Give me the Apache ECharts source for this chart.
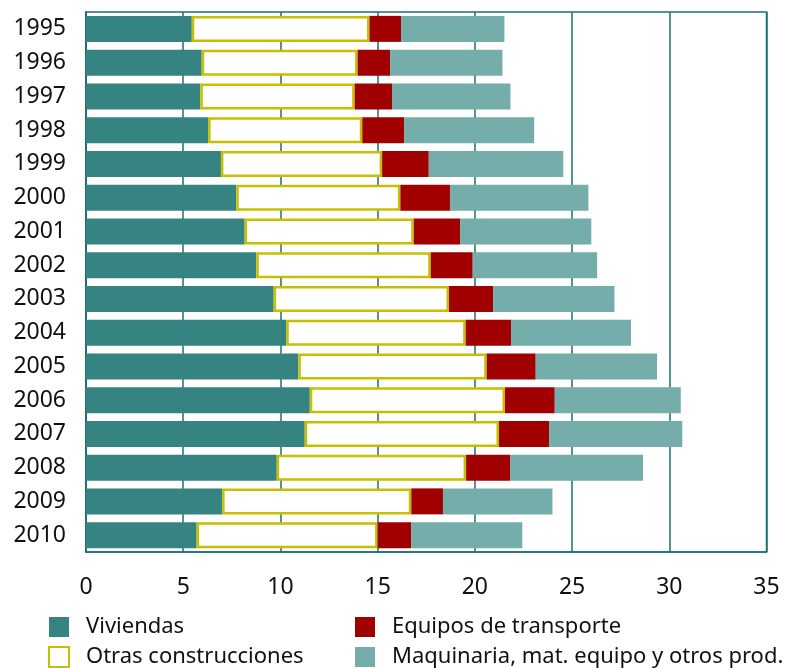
<!DOCTYPE html>
<html>
<head>
<meta charset="utf-8">
<script src="https://cdn.jsdelivr.net/npm/echarts@6/dist/echarts.min.js"></script>
<style>html,body{margin:0;padding:0;background:#fff}#c{width:794px;height:668px}</style>
</head>
<body>
<div id="c"></div>
<script>
const years = ['1995','1996','1997','1998','1999','2000','2001','2002','2003','2004','2005','2006','2007','2008','2009','2010'];
const viviendas = [5.44,5.95,5.88,6.28,6.94,7.73,8.16,8.76,9.65,10.30,10.92,11.51,11.25,9.81,7.00,5.69];
const otras = [9.14,8.02,7.94,7.93,8.29,8.44,8.70,8.97,9.02,9.23,9.69,10.04,9.99,9.74,9.73,9.31];
const equipos = [1.62,1.67,1.92,2.15,2.40,2.55,2.38,2.16,2.27,2.33,2.52,2.56,2.58,2.26,1.63,1.72];
const maquinaria = [5.32,5.78,6.09,6.69,6.92,7.12,6.75,6.40,6.24,6.17,6.24,6.48,6.85,6.84,5.63,5.72];
const xTicks = [0,5,10,15,20,25,30,35];
const names = ['Viviendas','Otras construcciones','Equipos de transporte','Maquinaria, mat. equipo y otros prod.'];

const FONT = 'Noto Sans';
const axisColor = '#1e716f';
const chart = echarts.init(document.getElementById('c'), null, {renderer:'canvas'});
const legendText = {fontFamily: FONT, fontSize: 22, color: '#111', padding: [0,0,0,12]};
chart.setOption({
  animation: false,
  grid: {left: 86, right: 27.5, top: 12, bottom: 116, show: true, borderColor: axisColor, borderWidth: 1.5},
  legend: [
    {data: [names[0], names[1]], orient: 'vertical', left: 48, top: 616, height: 120, padding: 0, itemWidth: 20, itemHeight: 20, itemGap: 8, icon: 'rect', textStyle: legendText},
    {data: [names[2], names[3]], orient: 'vertical', left: 355, top: 616, height: 120, padding: 0, itemWidth: 20, itemHeight: 20, itemGap: 8, icon: 'rect', textStyle: legendText}
  ],
  xAxis: {
    type: 'value', min: xTicks[0], max: xTicks[xTicks.length-1], interval: 5,
    axisLine: {show: true, lineStyle: {color: axisColor, width: 1.5}},
    axisTick: {show: false},
    splitLine: {show: true, lineStyle: {color: axisColor, width: 1.5}},
    axisLabel: {fontFamily: FONT, fontSize: 23, color: '#111', margin: 24}
  },
  yAxis: {
    type: 'category', data: years, inverse: true,
    axisLine: {show: true, lineStyle: {color: axisColor, width: 1.5}},
    axisTick: {show: false},
    axisLabel: {fontFamily: FONT, fontSize: 23, color: '#111', margin: 20}
  },
  series: [
    {name: names[0], type: 'bar', stack: 's', data: viviendas, barWidth: 26, itemStyle: {color: '#358482'}},
    {name: names[1], type: 'bar', stack: 's', data: otras, barWidth: 26, itemStyle: {color: '#ffffff', borderColor: '#c6c000', borderWidth: 2.5}},
    {name: names[2], type: 'bar', stack: 's', data: equipos, barWidth: 26, itemStyle: {color: '#a00000'}},
    {name: names[3], type: 'bar', stack: 's', data: maquinaria, barWidth: 26, itemStyle: {color: '#74adaa'}}
  ]
});
</script>
</body>
</html>
